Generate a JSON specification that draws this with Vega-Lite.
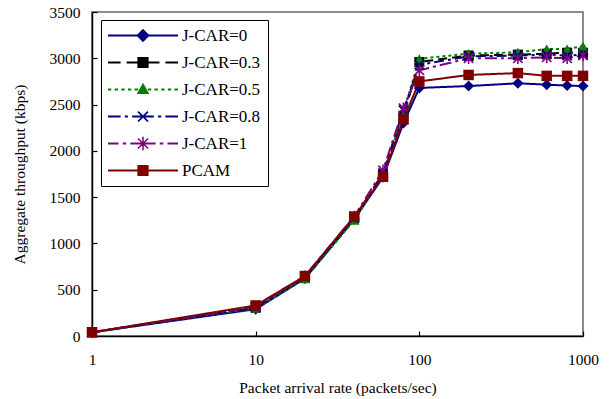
{
  "$schema": "https://vega.github.io/schema/vega-lite/v6.json",
  "autosize": {"type": "none"},
  "padding": {"left": 92, "top": 12, "right": 28, "bottom": 63},
  "width": 491,
  "height": 324,
  "background": "white",
  "config": {
    "view": {"stroke": "#8c8c8c", "strokeWidth": 2},
    "axis": {
      "grid": false,
      "domainColor": "black",
      "domainWidth": 1.5,
      "tickColor": "black",
      "tickWidth": 1.2,
      "labelFont": "Liberation Serif, Times New Roman, DejaVu Serif, serif",
      "labelFontSize": 15.5,
      "labelColor": "black",
      "labelFlush": false,
      "titleFont": "Liberation Serif, Times New Roman, DejaVu Serif, serif",
      "titleFontSize": 15.5,
      "titleFontWeight": "normal",
      "titleColor": "black"
    }
  },
  "data": {
    "values": [
      {"rate": 1, "series": "J-CAR=0", "kbps": 40},
      {"rate": 10, "series": "J-CAR=0", "kbps": 290},
      {"rate": 20, "series": "J-CAR=0", "kbps": 620},
      {"rate": 40, "series": "J-CAR=0", "kbps": 1260},
      {"rate": 60, "series": "J-CAR=0", "kbps": 1715},
      {"rate": 80, "series": "J-CAR=0", "kbps": 2300},
      {"rate": 100, "series": "J-CAR=0", "kbps": 2680},
      {"rate": 200, "series": "J-CAR=0", "kbps": 2700},
      {"rate": 400, "series": "J-CAR=0", "kbps": 2730},
      {"rate": 600, "series": "J-CAR=0", "kbps": 2715},
      {"rate": 800, "series": "J-CAR=0", "kbps": 2705},
      {"rate": 1000, "series": "J-CAR=0", "kbps": 2700},
      {"rate": 1, "series": "J-CAR=0.3", "kbps": 40},
      {"rate": 10, "series": "J-CAR=0.3", "kbps": 310},
      {"rate": 20, "series": "J-CAR=0.3", "kbps": 630},
      {"rate": 40, "series": "J-CAR=0.3", "kbps": 1270},
      {"rate": 60, "series": "J-CAR=0.3", "kbps": 1740},
      {"rate": 80, "series": "J-CAR=0.3", "kbps": 2380},
      {"rate": 100, "series": "J-CAR=0.3", "kbps": 2960},
      {"rate": 200, "series": "J-CAR=0.3", "kbps": 3030},
      {"rate": 400, "series": "J-CAR=0.3", "kbps": 3040},
      {"rate": 600, "series": "J-CAR=0.3", "kbps": 3050},
      {"rate": 800, "series": "J-CAR=0.3", "kbps": 3060},
      {"rate": 1000, "series": "J-CAR=0.3", "kbps": 3060},
      {"rate": 1, "series": "J-CAR=0.5", "kbps": 40},
      {"rate": 10, "series": "J-CAR=0.5", "kbps": 300},
      {"rate": 20, "series": "J-CAR=0.5", "kbps": 620},
      {"rate": 40, "series": "J-CAR=0.5", "kbps": 1250},
      {"rate": 60, "series": "J-CAR=0.5", "kbps": 1730},
      {"rate": 80, "series": "J-CAR=0.5", "kbps": 2420},
      {"rate": 100, "series": "J-CAR=0.5", "kbps": 2995},
      {"rate": 200, "series": "J-CAR=0.5", "kbps": 3050},
      {"rate": 400, "series": "J-CAR=0.5", "kbps": 3065},
      {"rate": 600, "series": "J-CAR=0.5", "kbps": 3100},
      {"rate": 800, "series": "J-CAR=0.5", "kbps": 3100},
      {"rate": 1000, "series": "J-CAR=0.5", "kbps": 3130},
      {"rate": 1, "series": "J-CAR=0.8", "kbps": 40},
      {"rate": 10, "series": "J-CAR=0.8", "kbps": 305},
      {"rate": 20, "series": "J-CAR=0.8", "kbps": 640},
      {"rate": 40, "series": "J-CAR=0.8", "kbps": 1275},
      {"rate": 60, "series": "J-CAR=0.8", "kbps": 1760},
      {"rate": 80, "series": "J-CAR=0.8", "kbps": 2440},
      {"rate": 100, "series": "J-CAR=0.8", "kbps": 2930},
      {"rate": 200, "series": "J-CAR=0.8", "kbps": 3020},
      {"rate": 400, "series": "J-CAR=0.8", "kbps": 3030},
      {"rate": 600, "series": "J-CAR=0.8", "kbps": 3040},
      {"rate": 800, "series": "J-CAR=0.8", "kbps": 3030},
      {"rate": 1000, "series": "J-CAR=0.8", "kbps": 3040},
      {"rate": 1, "series": "J-CAR=1", "kbps": 40},
      {"rate": 10, "series": "J-CAR=1", "kbps": 315},
      {"rate": 20, "series": "J-CAR=1", "kbps": 645},
      {"rate": 40, "series": "J-CAR=1", "kbps": 1290},
      {"rate": 60, "series": "J-CAR=1", "kbps": 1790},
      {"rate": 80, "series": "J-CAR=1", "kbps": 2460},
      {"rate": 100, "series": "J-CAR=1", "kbps": 2870},
      {"rate": 200, "series": "J-CAR=1", "kbps": 3000},
      {"rate": 400, "series": "J-CAR=1", "kbps": 3000},
      {"rate": 600, "series": "J-CAR=1", "kbps": 3010},
      {"rate": 800, "series": "J-CAR=1", "kbps": 3000},
      {"rate": 1000, "series": "J-CAR=1", "kbps": 3030},
      {"rate": 1, "series": "PCAM", "kbps": 40},
      {"rate": 10, "series": "PCAM", "kbps": 330},
      {"rate": 20, "series": "PCAM", "kbps": 648},
      {"rate": 40, "series": "PCAM", "kbps": 1290},
      {"rate": 60, "series": "PCAM", "kbps": 1720},
      {"rate": 80, "series": "PCAM", "kbps": 2340},
      {"rate": 100, "series": "PCAM", "kbps": 2750},
      {"rate": 200, "series": "PCAM", "kbps": 2820},
      {"rate": 400, "series": "PCAM", "kbps": 2840},
      {"rate": 600, "series": "PCAM", "kbps": 2810},
      {"rate": 800, "series": "PCAM", "kbps": 2810},
      {"rate": 1000, "series": "PCAM", "kbps": 2810}
    ]
  },
  "encoding": {
    "x": {
      "field": "rate",
      "type": "quantitative",
      "scale": {"type": "log", "domain": [1, 1000], "nice": false},
      "axis": {
        "title": "Packet arrival rate (packets/sec)",
        "values": [1, 10, 100, 1000],
        "format": "d",
        "tickSize": -5,
        "labelPadding": 21,
        "titlePadding": 13
      }
    },
    "y": {
      "field": "kbps",
      "type": "quantitative",
      "scale": {"domain": [0, 3500], "nice": false},
      "axis": {
        "title": "Aggregate throughput (kbps)",
        "values": [0, 500, 1000, 1500, 2000, 2500, 3000, 3500],
        "format": "d",
        "tickSize": -5,
        "labelPadding": 17,
        "titlePadding": 22
      }
    },
    "color": {
      "field": "series",
      "type": "nominal",
      "scale": {
        "domain": ["J-CAR=0", "J-CAR=0.3", "J-CAR=0.5", "J-CAR=0.8", "J-CAR=1", "PCAM"],
        "range": ["#000080", "#000000", "#008000", "#000080", "#800080", "#800000"]
      },
      "legend": {
        "title": null,
        "orient": "none",
        "legendX": 9,
        "legendY": 8,
        "padding": 7,
        "strokeColor": "black",
        "fillColor": "white",
        "rowPadding": 9,
        "labelOffset": 4,
        "labelFont": "Liberation Serif, Times New Roman, DejaVu Serif, serif",
        "labelFontSize": 17,
        "labelColor": "black",
        "labelLimit": 300,
        "encode": {
          "labels": {
            "update": {"y": {"value": 8.5}}
          },
          "symbols": {
            "update": {
              "y": {"value": 8.5},
              "shape": {"signal": "datum.value === 'J-CAR=0' ? 'M-1,-0.03H1V0.03H-1ZM0,-0.19L0.19,0L0,0.19L-0.19,0Z' : datum.value === 'J-CAR=0.3' ? 'M-1,-0.03H-0.64V0.03H-1ZM-0.47,-0.03H0.47V0.03H-0.47ZM0.64,-0.03H1V0.03H0.64ZM-0.16,-0.16H0.16V0.16H-0.16Z' : datum.value === 'J-CAR=0.5' ? 'M-1,-0.03H-0.905V0.03H-1ZM-0.81,-0.03H-0.715V0.03H-0.81ZM-0.62,-0.03H-0.525V0.03H-0.62ZM-0.43,-0.03H-0.335V0.03H-0.43ZM-0.24,-0.03H-0.145V0.03H-0.24ZM0.14,-0.03H0.235V0.03H0.14ZM0.33,-0.03H0.425V0.03H0.33ZM0.52,-0.03H0.615V0.03H0.52ZM0.71,-0.03H0.805V0.03H0.71ZM0.9,-0.03H0.995V0.03H0.9ZM0,-0.19L0.18,0.13L-0.18,0.13Z' : datum.value === 'J-CAR=0.8' ? 'M-1,-0.03H-0.64V0.03H-1ZM-0.52,-0.03H-0.43V0.03H-0.52ZM-0.31,-0.03H0.31V0.03H-0.31ZM0.43,-0.03H0.52V0.03H0.43ZM0.64,-0.03H1V0.03H0.64ZM-0.16,-0.125L-0.125,-0.16L0,-0.035L0.125,-0.16L0.16,-0.125L0.035,0L0.16,0.125L0.125,0.16L0,0.035L-0.125,0.16L-0.16,0.125L-0.035,0Z' : datum.value === 'J-CAR=1' ? 'M-1,-0.03H-0.7V0.03H-1ZM-0.58,-0.03H-0.48V0.03H-0.58ZM-0.36,-0.03H0.36V0.03H-0.36ZM0.48,-0.03H0.58V0.03H0.48ZM0.7,-0.03H1V0.03H0.7ZM-0.16,-0.13L-0.13,-0.16L0,-0.03L0.13,-0.16L0.16,-0.13L0.03,0L0.16,0.13L0.13,0.16L0,0.03L-0.13,0.16L-0.16,0.13L-0.03,0ZM-0.022,-0.19H0.022V0.19H-0.022Z' : 'M-1,-0.03H1V0.03H-1ZM-0.16,-0.16H0.16V0.16H-0.16Z'"},
              "size": {"value": 4900},
              "fill": {"scale": "color", "field": "value"},
              "stroke": {"value": "transparent"},
              "strokeWidth": {"value": 0},
              "strokeDash": {"value": [1, 0]},
              "opacity": {"value": 1},
              "fillOpacity": {"value": 1}
            }
          }
        }
      }
    }
  },
  "layer": [
    {
      "mark": {"type": "line", "strokeWidth": 2},
      "encoding": {
        "strokeDash": {
          "field": "series",
          "type": "nominal",
          "scale": {
            "domain": ["J-CAR=0", "J-CAR=0.3", "J-CAR=0.5", "J-CAR=0.8", "J-CAR=1", "PCAM"],
            "range": [[1, 0], [9, 5], [3, 3], [10, 4, 3, 4], [12, 4, 3, 4], [1, 0]]
          },
          "legend": null
        }
      }
    },
    {
      "transform": [{"filter": "datum.series === 'J-CAR=0'"}],
      "mark": {"type": "point", "filled": true, "opacity": 1, "size": 120, "shape": "diamond"}
    },
    {
      "transform": [{"filter": "datum.series === 'J-CAR=0.3'"}],
      "mark": {"type": "point", "filled": true, "opacity": 1, "size": 100, "shape": "square"}
    },
    {
      "transform": [{"filter": "datum.series === 'J-CAR=0.5'"}],
      "mark": {"type": "point", "filled": true, "opacity": 1, "size": 110, "shape": "triangle-up"}
    },
    {
      "transform": [{"filter": "datum.series === 'J-CAR=0.8'"}],
      "mark": {"type": "point", "filled": true, "opacity": 1, "size": 110, "shape": "M-1,-0.75L-0.75,-1L0,-0.25L0.75,-1L1,-0.75L0.25,0L1,0.75L0.75,1L0,0.25L-0.75,1L-1,0.75L-0.25,0Z"}
    },
    {
      "transform": [{"filter": "datum.series === 'J-CAR=1'"}],
      "mark": {"type": "point", "filled": true, "opacity": 1, "size": 110, "shape": "M-1,-0.78L-0.78,-1L0,-0.22L0.78,-1L1,-0.78L0.22,0L1,0.78L0.78,1L0,0.22L-0.78,1L-1,0.78L-0.22,0ZM-0.15,-1.1H0.15V1.1H-0.15Z"}
    },
    {
      "transform": [{"filter": "datum.series === 'PCAM'"}],
      "mark": {"type": "point", "filled": true, "opacity": 1, "size": 110, "shape": "square"}
    }
  ]
}
